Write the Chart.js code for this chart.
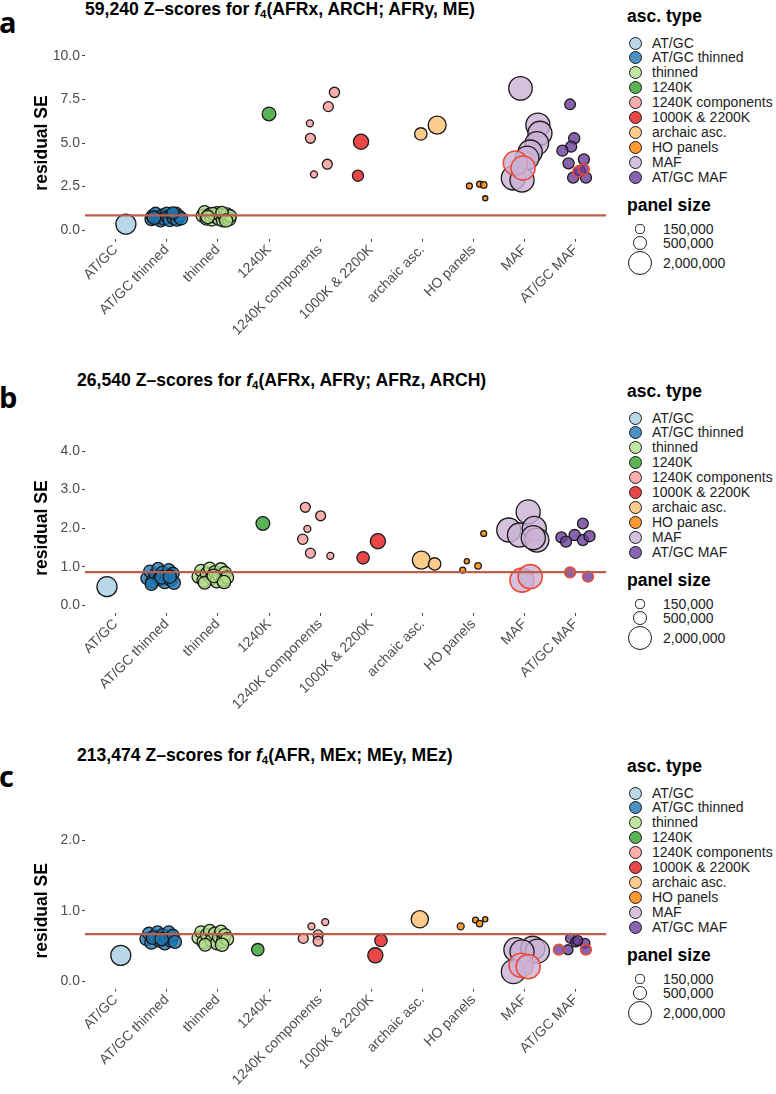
<!DOCTYPE html>
<html>
<head>
<meta charset="utf-8">
<script src="https://cdn.jsdelivr.net/npm/chart.js@4.4.1/dist/chart.umd.min.js"></script>
<style>
body { margin: 0; background: #fff; }
#page { position: relative; width: 776px; height: 1094px; font-family: "Liberation Sans", Arial, sans-serif; color: #000; }
canvas { position: absolute; left: 0; }
.letter { position: absolute; left: -1px; font-family: "Open Sans", sans-serif; font-weight: 700; font-size: 29px; line-height: 28px; }
.title { position: absolute; font-weight: 700; font-size: 17.6px; line-height: 18px; white-space: nowrap; }
.title sub { font-size: 11.5px; vertical-align: -3px; line-height: 0; }
.legTitle { position: absolute; left: 627px; font-weight: 700; font-size: 17.5px; line-height: 20px; white-space: nowrap; }
.legRow { position: absolute; height: 15px; font-size: 14px; line-height: 15px; color: #222; white-space: nowrap; }
.key { position: absolute; border-radius: 50%; box-sizing: border-box; border: 1.4px solid #1a1a1a; }
</style>
</head>
<body>
<div id="page"></div>
<script>
const cats = ['AT/GC', 'AT/GC thinned', 'thinned', '1240K', '1240K components', '1000K & 2200K', 'archaic asc.', 'HO panels', 'MAF', 'AT/GC MAF'];
const catColors = ['#a6cee3', '#1f78b4', '#b2df8a', '#33a02c', '#fb9a99', '#e31a1c', '#fdbf6f', '#ff7f00', '#cab2d6', '#6a3d9a'];
const sizeKeys = [150000, 500000, 2000000];
const sizeLabels = ['150,000', '500,000', '2,000,000'];

// panel a: f4(AFRx, ARCH; AFRy, ME)
const aTicks = [0, 2.5, 5, 7.5, 10];
const aLine = 0.84;
const aSE = [
  [0.34],
  [0.62, 0.80, 0.95, 0.70, 0.55, 0.85, 0.66, 0.95, 0.74, 0.58, 0.88, 0.68, 0.96, 0.60, 0.78, 0.66, 0.70, 0.98],
  [0.82, 1.05, 0.66, 0.90, 0.60, 0.78, 0.98, 0.64, 0.85, 0.56, 0.74, 0.92, 0.62, 0.80, 0.95, 1.00, 0.75, 0.55],
  [6.67],
  [6.13, 5.27, 3.20, 3.78, 7.09, 7.91],
  [5.07, 3.12],
  [5.52, 6.03],
  [2.53, 2.63, 2.59, 1.82],
  [8.14, 6.03, 5.56, 4.98, 4.48, 4.14, 2.99, 2.87, 3.85, 3.56],
  [7.22, 5.27, 4.79, 4.56, 4.06, 3.83, 3.01, 3.01, 3.40, 3.35, 3.49]
];
const aJit = [
  [0.20],
  [-0.30, -0.28, -0.22, -0.18, -0.12, -0.08, -0.05, 0.00, 0.02, 0.06, 0.10, 0.14, 0.18, 0.20, 0.24, 0.28, -0.25, 0.12],
  [-0.30, -0.26, -0.22, -0.16, -0.12, -0.06, -0.02, 0.02, 0.06, 0.10, 0.14, 0.18, 0.22, 0.24, -0.10, 0.08, -0.20, 0.16],
  [0.00],
  [-0.20, -0.19, -0.12, 0.14, 0.16, 0.28],
  [-0.20, -0.26],
  [-0.03, 0.29],
  [-0.08, 0.12, 0.20, 0.23],
  [-0.08, 0.26, 0.30, 0.24, 0.11, 0.05, -0.22, -0.05, -0.18, -0.03],
  [-0.11, -0.03, -0.09, -0.26, 0.16, -0.14, -0.05, 0.20, 0.08, 0.05, 0.16]
];
const aSize = [
  [1300000],
  [420000, 400000, 380000, 450000, 430000, 400000, 460000, 390000, 420000, 470000, 400000, 450000, 380000, 440000, 410000, 430000, 470000, 370000],
  [420000, 380000, 450000, 400000, 430000, 460000, 390000, 440000, 410000, 470000, 420000, 380000, 450000, 400000, 370000, 380000, 470000, 460000],
  [500000],
  [60000, 200000, 60000, 200000, 200000, 220000],
  [650000, 280000],
  [380000, 1000000],
  [30000, 30000, 45000, 15000],
  [1900000, 2000000, 2000000, 1900000, 2000000, 1900000, 2000000, 2000000, 2000000, 2000000],
  [250000, 280000, 280000, 280000, 280000, 280000, 280000, 280000, 280000, 250000, 250000]
];
const aRed = [
  [0], [], [], [0], [], [], [], [],
  [0, 0, 0, 0, 0, 0, 0, 0, 1, 1],
  [0, 0, 0, 0, 0, 0, 0, 0, 0, 1, 1]
];

// panel b: f4(AFRx, AFRy; AFRz, ARCH)
const bTicks = [0, 1, 2, 3, 4];
const bLine = 0.86;
const bSE = [
  [0.48],
  [0.70, 0.88, 0.62, 0.80, 0.95, 0.68, 0.85, 0.60, 0.76, 0.92, 0.66, 0.82, 0.58, 0.55, 0.72, 0.74],
  [0.74, 0.90, 0.64, 0.82, 0.96, 0.70, 0.86, 0.62, 0.78, 0.94, 0.66, 0.84, 0.72, 0.58, 0.76, 0.60],
  [2.12],
  [2.54, 2.32, 1.98, 1.71, 1.35, 1.28],
  [1.23, 1.66],
  [1.17, 1.07],
  [0.91, 1.14, 1.02, 1.86],
  [1.95, 2.42, 1.82, 1.99, 1.69, 1.75, 0.65, 0.74],
  [1.76, 1.65, 1.82, 2.12, 1.69, 1.79, 0.85, 0.74]
];
const bJit = [
  [-0.17],
  [-0.38, -0.33, -0.28, -0.22, -0.17, -0.14, -0.08, -0.04, 0.00, 0.04, 0.08, 0.12, 0.14, -0.30, -0.10, 0.06],
  [-0.38, -0.33, -0.28, -0.22, -0.16, -0.12, -0.06, -0.02, 0.02, 0.06, 0.10, 0.14, 0.18, -0.26, -0.08, 0.12],
  [-0.12],
  [-0.29, 0.01, -0.25, -0.34, -0.19, 0.20],
  [-0.16, 0.13],
  [-0.02, 0.24],
  [-0.21, -0.13, 0.09, 0.20],
  [-0.31, 0.07, -0.10, 0.19, 0.24, 0.17, -0.05, 0.11],
  [-0.28, -0.19, -0.02, 0.14, 0.14, 0.27, -0.11, 0.24]
];
const bSize = [
  [1300000],
  [420000, 380000, 450000, 400000, 370000, 460000, 400000, 440000, 420000, 380000, 450000, 400000, 430000, 400000, 470000, 460000],
  [420000, 380000, 450000, 400000, 370000, 460000, 400000, 440000, 420000, 380000, 450000, 400000, 430000, 400000, 470000, 460000],
  [500000],
  [200000, 200000, 60000, 220000, 200000, 60000],
  [380000, 650000],
  [1000000, 380000],
  [30000, 15000, 45000, 30000],
  [2000000, 2000000, 2000000, 2000000, 2000000, 2000000, 2000000, 2000000],
  [280000, 280000, 280000, 250000, 280000, 280000, 250000, 250000]
];
const bRed = [
  [0], [], [], [0], [], [], [], [],
  [0, 0, 0, 0, 0, 0, 1, 1],
  [0, 0, 0, 0, 0, 0, 1, 1]
];

// panel c: f4(AFR, MEx; MEy, MEz)
const cTicks = [0, 1, 2];
const cLine = 0.67;
const cSE = [
  [0.37],
  [0.60, 0.68, 0.55, 0.64, 0.70, 0.58, 0.66, 0.54, 0.62, 0.70, 0.58, 0.65, 0.56, 0.62, 0.60],
  [0.62, 0.70, 0.56, 0.66, 0.72, 0.58, 0.68, 0.54, 0.63, 0.71, 0.57, 0.66, 0.60, 0.52, 0.52],
  [0.45],
  [0.78, 0.84, 0.61, 0.66, 0.57],
  [0.58, 0.37],
  [0.88],
  [0.78, 0.87, 0.82, 0.88],
  [0.45, 0.47, 0.43, 0.42, 0.14, 0.23, 0.21],
  [0.61, 0.56, 0.54, 0.45, 0.58, 0.45, 0.45]
];
const cJit = [
  [0.10],
  [-0.40, -0.35, -0.30, -0.24, -0.18, -0.14, -0.08, -0.04, 0.00, 0.04, 0.08, 0.12, 0.16, -0.27, -0.10],
  [-0.38, -0.33, -0.28, -0.22, -0.16, -0.12, -0.06, -0.02, 0.02, 0.06, 0.10, 0.14, 0.18, -0.25, 0.08],
  [-0.22],
  [-0.17, 0.10, -0.33, -0.04, -0.04],
  [0.19, 0.08],
  [-0.05],
  [-0.25, 0.04, 0.12, 0.23],
  [-0.17, 0.16, 0.25, -0.05, -0.22, -0.07, 0.07],
  [-0.10, 0.00, 0.18, -0.15, 0.04, -0.33, 0.20]
];
const cSize = [
  [1300000],
  [420000, 380000, 450000, 400000, 370000, 460000, 400000, 440000, 420000, 380000, 450000, 400000, 430000, 470000, 470000],
  [420000, 380000, 450000, 400000, 370000, 460000, 400000, 440000, 420000, 380000, 450000, 400000, 430000, 400000, 460000],
  [380000],
  [60000, 60000, 200000, 200000, 200000],
  [380000, 650000],
  [900000],
  [60000, 30000, 45000, 15000],
  [2000000, 2000000, 2000000, 2000000, 2000000, 2000000, 2000000],
  [200000, 200000, 200000, 200000, 200000, 250000, 250000]
];
const cRed = [
  [0], [], [], [0], [], [], [], [],
  [0, 0, 0, 0, 0, 1, 1],
  [0, 0, 0, 0, 0, 1, 1]
];

Chart.defaults.font.family = '"Liberation Sans", Arial, sans-serif';

const page = document.getElementById('page');

function sizeToRadius(s) {
  return 1.7 + 0.0073 * Math.sqrt(s);
}

function withAlpha(hex, a) {
  const n = parseInt(hex.slice(1), 16);
  return 'rgba(' + (n >> 16) + ',' + ((n >> 8) & 255) + ',' + (n & 255) + ',' + a + ')';
}

function addDiv(cls, left, top, html) {
  const d = document.createElement('div');
  d.className = cls;
  if (left !== null) d.style.left = left + 'px';
  d.style.top = top + 'px';
  d.innerHTML = html;
  page.appendChild(d);
  return d;
}

function addLegend(off) {
  addDiv('legTitle', null, off + 6, 'asc. type');
  cats.forEach(function(c, i) {
    const cy = off + 43 + i * 14.9;
    const k = addDiv('key', 628.5, cy - 6.5, '');
    k.style.width = '13px';
    k.style.height = '13px';
    k.style.background = withAlpha(catColors[i], 0.8);
    addDiv('legRow', 652, cy - 7.5, c);
  });
  addDiv('legTitle', null, off + 195, 'panel size');
  const ys = [229, 243, 263];
  sizeKeys.forEach(function(s, i) {
    const r = sizeToRadius(s);
    const k = addDiv('key', 640 - r, off + ys[i] - r, '');
    k.style.width = (2 * r) + 'px';
    k.style.height = (2 * r) + 'px';
    k.style.borderWidth = '1.3px';
    addDiv('legRow', 663, off + ys[i] - 7.5, sizeLabels[i]);
  });
}

function makePanel(p) {
  const canvas = document.createElement('canvas');
  canvas.width = 620;
  canvas.height = p.h;
  canvas.style.top = p.top + 'px';
  page.appendChild(canvas);

  const datasets = cats.map(function(c, i) {
    return {
      label: c,
      order: 100 - i,
      data: p.se[i].map(function(v, k) {
        return { x: i + p.jit[i][k], y: v, s: p.size[i][k], red: p.red[i][k] };
      }),
      pointRadius: ctx => ctx.raw ? sizeToRadius(ctx.raw.s) : 3,
      pointHoverRadius: ctx => ctx.raw ? sizeToRadius(ctx.raw.s) : 3,
      pointBackgroundColor: withAlpha(catColors[i], 0.8),
      pointBorderColor: ctx => (ctx.raw && ctx.raw.red) ? '#ec4a34' : '#1a1a1a',
      pointBorderWidth: ctx => (ctx.raw && ctx.raw.red) ? 1.6 : 1.3
    };
  });
  datasets.push({
    type: 'line',
    label: 'line',
    order: 0,
    data: [{ x: -0.6, y: p.line }, { x: 9.6, y: p.line }],
    borderColor: '#b9614e',
    borderWidth: 2.2,
    pointRadius: 0
  });

  const tickFont = { size: 14 };
  new Chart(canvas, {
    type: 'scatter',
    data: { datasets: datasets },
    options: {
      responsive: false,
      animation: false,
      events: [],
      layout: { padding: { top: p.padTop, right: 2, left: 0, bottom: 0 } },
      plugins: { legend: { display: false }, tooltip: { enabled: false } },
      scales: {
        x: {
          type: 'linear',
          min: -0.6,
          max: 9.6,
          afterBuildTicks: s => { s.ticks = cats.map((c, i) => ({ value: i })); },
          afterFit: s => { s.height = p.xh; },
          ticks: {
            callback: v => cats[v],
            minRotation: 45,
            maxRotation: 45,
            autoSkip: false,
            font: tickFont,
            color: '#4d4d4d',
            padding: 0
          },
          grid: { drawOnChartArea: false, drawTicks: true, tickLength: 3, color: '#444' },
          border: { display: false }
        },
        y: {
          min: p.ymin,
          max: p.ymax,
          afterBuildTicks: s => { s.ticks = p.ticks.map(v => ({ value: v })); },
          afterFit: s => { s.width = 85; },
          ticks: {
            callback: v => v.toFixed(1),
            font: tickFont,
            color: '#4d4d4d',
            padding: 2
          },
          grid: { drawOnChartArea: false, drawTicks: true, tickLength: 3, color: '#444' },
          border: { display: false },
          title: {
            display: true,
            text: 'residual SE',
            color: '#000',
            font: { size: 17.5, weight: 'bold' },
            padding: { top: 32, bottom: 0 }
          }
        }
      }
    }
  });
}

// letters and titles
addDiv('letter', null, 8, 'a');
addDiv('letter', null, 383, 'b');
addDiv('letter', null, 762, 'c');
addDiv('title', 85, 0, '59,240 Z–scores for <i>f</i><sub>4</sub>(AFRx, ARCH; AFRy, ME)');
addDiv('title', 77, 371, '26,540 Z–scores for <i>f</i><sub>4</sub>(AFRx, AFRy; AFRz, ARCH)');
addDiv('title', 77, 746, '213,474 Z–scores for <i>f</i><sub>4</sub>(AFR, MEx; MEy, MEz)');

addLegend(0);
addLegend(375);
addLegend(750);

makePanel({ top: 0, h: 350, padTop: 47.3, xh: 111.3, ymin: -0.5, ymax: 10.5, ticks: aTicks, line: aLine,
  se: aSE, jit: aJit, size: aSize, red: aRed });
makePanel({ top: 365, h: 355, padTop: 78.3, xh: 107.1, ymin: -0.2, ymax: 4.2, ticks: bTicks, line: bLine,
  se: bSE, jit: bJit, size: bSize, red: bRed });
makePanel({ top: 740, h: 354, padTop: 93, xh: 105.4, ymin: -0.1, ymax: 2.1, ticks: cTicks, line: cLine,
  se: cSE, jit: cJit, size: cSize, red: cRed });
</script>
</body>
</html>
